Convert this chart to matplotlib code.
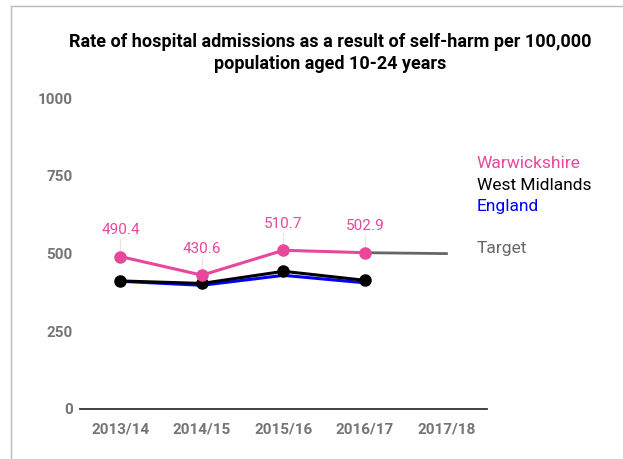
import numpy as np
import matplotlib
matplotlib.use("Agg")
from matplotlib import pyplot as plt
from matplotlib.lines import Line2D

plt.rcParams['font.family'] = ['Roboto', 'DejaVu Sans']

# data
years = ['2013/14', '2014/15', '2015/16', '2016/17', '2017/18']
warwickshire = [490.4, 430.6, 510.7, 502.9]
west_midlands = [412, 404, 443, 414]
england = [411, 398, 430, 406]
target_x = ['2016/17', '2017/18']
target = [502.9, 500]
yticks = [0, 250, 500, 750, 1000]

PINK = '#E8479A'
GREY = '#757575'

fig = plt.figure(figsize=(6.23, 4.59), dpi=100)
ax = fig.add_axes([0.128, 0.109, 0.654, 0.677])

x = np.arange(len(years))
tx = [years.index(t) for t in target_x]

ax.plot(tx, target, color='#666666', lw=2, zorder=2)
ax.plot(x[:4], england, color='#0000FF', lw=2.2, zorder=3)
ax.plot(x[:4], west_midlands, color='black', lw=2.2, marker='o', ms=8, zorder=4)
ax.plot(x[:4], warwickshire, color=PINK, lw=2.2, marker='o', ms=8, zorder=5)

# data labels with thin leader lines
for i, v in enumerate(warwickshire):
    ax.plot([i, i], [v + 12, v + 55], color='#e6e6e6', lw=1, zorder=1)
    ax.text(i, v + 62, f'{v:.1f}', color=PINK, fontsize=11, ha='center', va='bottom')

ax.set_xlim(-0.5, 4.5)
ax.set_ylim(0, 1000)
ax.set_xticks(x)
ax.set_xticklabels(years, fontsize=11, fontweight='bold', color=GREY)
ax.set_yticks(yticks)
ax.set_yticklabels([str(t) for t in yticks], fontsize=11, fontweight='bold', color=GREY)
ax.tick_params(length=0, pad=10)
ax.tick_params(axis='y', pad=5)
for s in ['top', 'right', 'left']:
    ax.spines[s].set_visible(False)
ax.spines['bottom'].set_color('#333333')
ax.spines['bottom'].set_linewidth(1.3)

fig.text(0.53, 1 - 53 / 459, 'Rate of hospital admissions as a result of self-harm per 100,000\npopulation aged 10-24 years',
         ha='center', va='center', fontsize=13, fontweight='bold', linespacing=1.35)

fig.text(0.765, 1 - 163 / 459, 'Warwickshire', color=PINK, fontsize=12.5, va='center')
fig.text(0.765, 1 - 185 / 459, 'West Midlands', color='black', fontsize=12.5, va='center')
fig.text(0.765, 1 - 206 / 459, 'England', color='#0000FF', fontsize=12.5, va='center')
fig.text(0.765, 1 - 248 / 459, 'Target', color='#666666', fontsize=12.5, va='center')

# frame on left and top only
fx, fy = 10.5 / 623, 1 - 5.5 / 459
fig.lines.append(Line2D([fx, fx], [0, fy], transform=fig.transFigure, color='#bbbbbb', lw=1))
fig.lines.append(Line2D([fx, 1], [fy, fy], transform=fig.transFigure, color='#bbbbbb', lw=1))

fig.savefig('out.png', dpi=100)
